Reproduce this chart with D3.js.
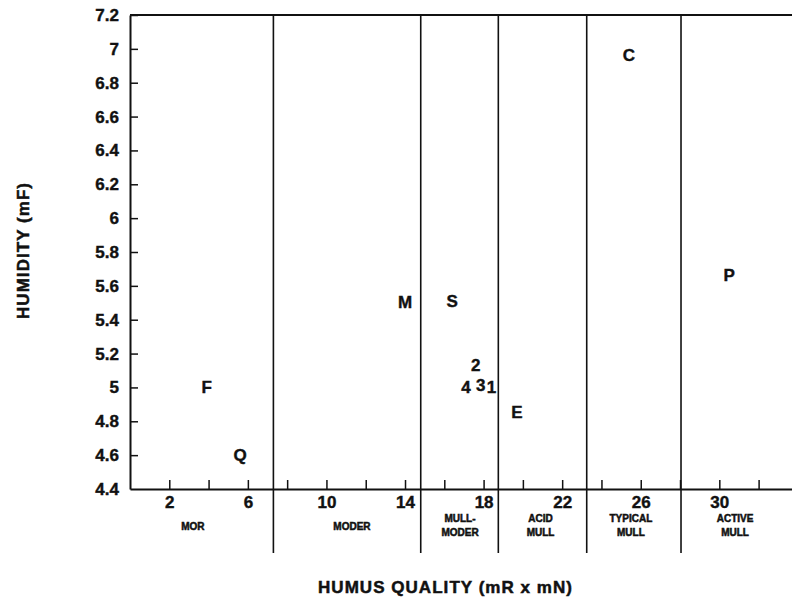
<!DOCTYPE html>
<html lang="en">
<head>
    <meta charset="UTF-8">
    <script src="https://d3js.org/d3.v7.min.js"></script>
    <title>Humidity vs Humus Quality</title>
    <style>
        body { margin: 0; background: white; }
        svg { display: block; font-family: "Liberation Sans", Arial, sans-serif; }
        .axis path, .axis line { stroke: #111; }
        .axis text { font-size: 17px; font-weight: bold; fill: #111; stroke: #111; stroke-width: 0.4px; }
        .pt { font-size: 17px; font-weight: bold; fill: #111; stroke: #111; stroke-width: 0.4px; }
        .cat { font-size: 10px; font-weight: bold; fill: #111; stroke: #111; stroke-width: 0.5px; }
        .title { font-size: 17px; font-weight: bold; fill: #111; stroke: #111; stroke-width: 0.5px; }
    </style>
</head>
<body>
<div id="chart"></div>
<script>
    // point labels and their positions (humus quality, humidity)
    const labels   = ["F", "Q", "M", "S", "2", "4", "3", "1", "E", "C", "P"];
    const humus    = [3.9, 5.6, 14.0, 16.4, 17.6, 17.1, 17.85, 18.4, 19.7, 25.4, 30.5];
    const humidity = [5.0, 4.6, 5.5, 5.51, 5.13, 5.0, 5.01, 5.0, 4.85, 6.96, 5.66];

    // humus form classes
    const boundaries = [7.3, 14.8, 18.75, 23.25, 28.05];
    const classNames = [["MOR"], ["MODER"], ["MULL-", "MODER"], ["ACID", "MULL"], ["TYPICAL", "MULL"], ["ACTIVE", "MULL"]];
    const classCenters = [3.2, 11.3, 16.8, 20.9, 25.5, 30.8];

    const xTicks = [2, 4, 6, 8, 10, 12, 14, 16, 18, 20, 22, 24, 26, 28, 30, 32];
    const xLabelled = [2, 6, 10, 14, 18, 22, 26, 30];
    const yTicks = [4.4, 4.6, 4.8, 5, 5.2, 5.4, 5.6, 5.8, 6, 6.2, 6.4, 6.6, 6.8, 7, 7.2];

    const width = 792, height = 600;
    const svg = d3.select("#chart").append("svg")
        .attr("width", width)
        .attr("height", height);

    const x = d3.scaleLinear().domain([0, 33.7]).range([130, 792]);
    const y = d3.scaleLinear().domain([4.4, 7.2]).range([489, 15]);

    // top border
    svg.append("line")
        .attr("x1", x(0)).attr("x2", width)
        .attr("y1", y(7.2)).attr("y2", y(7.2))
        .attr("stroke", "#111").attr("stroke-width", 2);

    // class dividers
    svg.selectAll(".divider")
        .data(boundaries)
        .enter()
        .append("line")
        .attr("class", "divider")
        .attr("x1", d => x(d)).attr("x2", d => x(d))
        .attr("y1", y(7.2)).attr("y2", 553)
        .attr("stroke", "#111").attr("stroke-width", 1.6);

    // y axis
    const yAxis = d3.axisLeft(y)
        .tickValues(yTicks)
        .tickFormat(d3.format("~g"))
        .tickSizeInner(-8)
        .tickSizeOuter(0)
        .tickPadding(11);
    svg.append("g")
        .attr("class", "axis")
        .attr("transform", `translate(${x(0)},0)`)
        .call(yAxis)
        .call(g => g.select(".domain").attr("stroke-width", 2))
        .call(g => g.selectAll(".tick line").attr("stroke-width", 1.5))
        .call(g => g.selectAll(".tick").filter(d => d === 4.4).select("line").remove());

    // x axis
    const xAxis = d3.axisBottom(x)
        .tickValues(xTicks)
        .tickFormat(d => xLabelled.includes(d) ? d : "")
        .tickSizeInner(-9)
        .tickSizeOuter(0)
        .tickPadding(7);
    svg.append("g")
        .attr("class", "axis")
        .attr("transform", `translate(0,${y(4.4)})`)
        .call(xAxis)
        .call(g => g.select(".domain").attr("stroke-width", 2))
        .call(g => g.selectAll(".tick line").attr("stroke-width", 1.5));

    // class names under the axis
    const cats = svg.selectAll(".cat")
        .data(classNames)
        .enter()
        .append("text")
        .attr("class", "cat")
        .attr("text-anchor", "middle")
        .attr("x", (d, i) => x(classCenters[i]))
        .attr("y", d => d.length === 1 ? 530 : 522);
    cats.selectAll("tspan")
        .data((d, i) => d.map(t => ({ t: t, i: i })))
        .enter()
        .append("tspan")
        .attr("x", d => x(classCenters[d.i]))
        .attr("dy", (d, j) => j === 0 ? 0 : 14)
        .text(d => d.t);

    // point labels
    svg.selectAll(".pt")
        .data(labels)
        .enter()
        .append("text")
        .attr("class", "pt")
        .attr("text-anchor", "middle")
        .attr("dominant-baseline", "central")
        .attr("x", (d, i) => x(humus[i]))
        .attr("y", (d, i) => y(humidity[i]))
        .text(d => d);

    // axis titles
    svg.append("text")
        .attr("class", "title")
        .attr("text-anchor", "middle")
        .attr("x", 445).attr("y", 593)
        .attr("textLength", 254)
        .text("HUMUS QUALITY (mR x mN)");

    svg.append("text")
        .attr("class", "title")
        .attr("text-anchor", "middle")
        .attr("transform", "translate(29,251) rotate(-90)")
        .attr("textLength", 136)
        .text("HUMIDITY (mF)");
</script>
</body>
</html>
